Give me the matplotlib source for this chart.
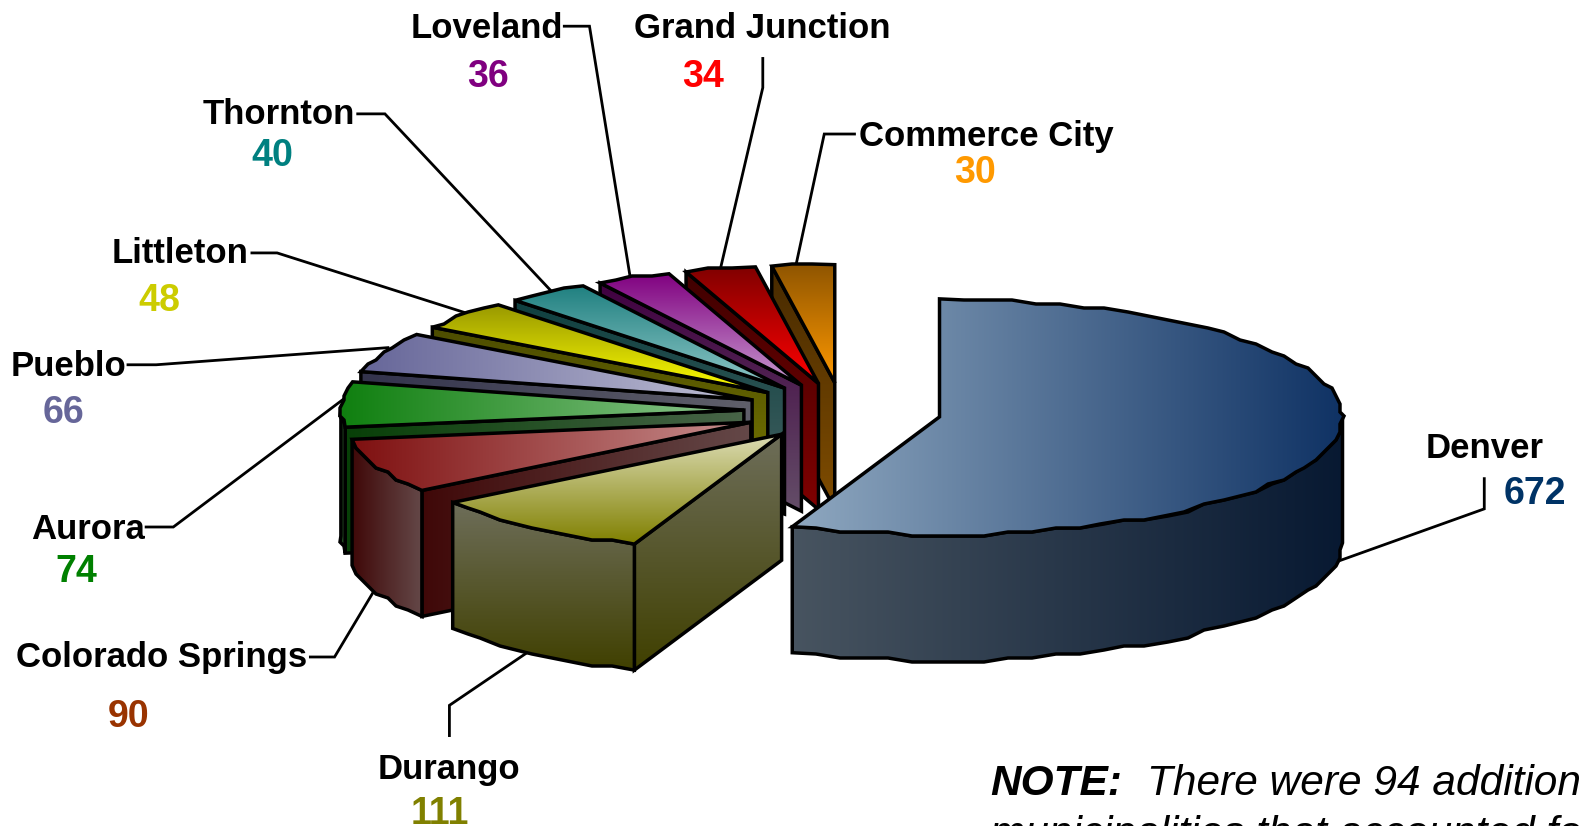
import numpy as np
import matplotlib
matplotlib.use("Agg")
import matplotlib.pyplot as plt
from matplotlib.patches import Polygon
from matplotlib.colors import to_rgb

# ---- data ----
categories = ["Denver", "Durango", "Colorado Springs", "Aurora", "Pueblo",
              "Littleton", "Thornton", "Loveland", "Grand Junction", "Commerce City"]
values = [672, 111, 90, 74, 66, 48, 40, 36, 34, 30]

# ---- style ----
grad_a = ["#8FA8C0", "#DCDCB4", "#7F1010", "#0F7F0F", "#666699",
          "#999900", "#1F8080", "#800080", "#800000", "#8F5500"]
grad_b = ["#0F3264", "#808000", "#C89090", "#90C890", "#C0C0D5",
          "#FFFF00", "#90C8C8", "#C89BD0", "#FF0000", "#FF9900"]
grad_dir = ["h", "v", "h", "h", "h", "v", "v", "v", "v", "v"]
value_colors = ["#003366", "#808000", "#993300", "#008000", "#666699",
                "#CCCC00", "#008080", "#800080", "#FF0000", "#FF9900"]

S = 1580 / 1568
name_xy = [(1473, 445), (446, 764), (160, 653), (87, 525), (68, 364),
           (179, 252), (277, 114), (483, 28), (756, 28), (979, 135)]
value_xy = [(1523, 490), (436, 808), (128, 712), (76, 568), (63, 410),
            (158, 299), (270, 155), (484, 76), (698, 76), (968, 172)]
leaders = [[(1473, 475), (1473, 505), (1325, 558)],
           [(446, 730), (446, 700), (530, 643)],
           [(308, 652), (332, 652), (372, 585)],
           [(145, 523), (172, 523), (345, 393)],
           [(127, 362), (155, 362), (385, 345)],
           [(250, 251), (275, 251), (470, 313)],
           [(355, 113), (382, 113), (550, 292)],
           [(560, 26), (585, 26), (627, 285)],
           [(757, 58), (757, 87), (713, 275)],
           [(848, 133), (818, 133), (788, 272)]]

CX, CY = 842.5, 411.5
RX, RY = 403.0, 118.0
DEPTH = 126.0
EXPLODE = 0.245
SIDE_SHADE = 0.5
LW = 2.5
ROUGH = 4.0      # the reference's rim is a coarse, stepped outline
STEP_DEG = 3.5

plt.rcParams["font.family"] = ["Liberation Sans", "DejaVu Sans"]
fig = plt.figure(figsize=(15.8, 8.26), dpi=100)
ax = fig.add_axes([0, 0, 1, 1])
ax.set_xlim(0, 1580)
ax.set_ylim(826, 0)
ax.axis("off")

z = [10]


def face(points, c0, c1, direction):
    """Draw one polygon with a two-colour linear gradient and a black outline."""
    pts = np.asarray(points)
    x0, y0 = pts.min(axis=0)
    x1, y1 = pts.max(axis=0)
    c0, c1 = np.array(c0), np.array(c1)
    t = np.linspace(0, 1, 256)[:, None]
    ramp = c0 * (1 - t) + c1 * t
    img = ramp[None, :, :] if direction == "h" else ramp[:, None, :]
    z[0] += 1
    im = ax.imshow(img, extent=(x0, x1 + 1e-3, y1 + 1e-3, y0), aspect="auto",
                   interpolation="bilinear", zorder=z[0])
    patch = Polygon(pts, closed=True, fc="none", ec="black", lw=LW,
                    joinstyle="miter", zorder=z[0] + 0.5)
    ax.add_patch(patch)
    im.set_clip_path(patch)


def ell(th):
    return np.array([RX * np.sin(th), -RY * np.cos(th)])


def arc_pts(apex, a, b):
    """Outline from angle a to b, stepped like the reference; ends stay exact."""
    n = max(2, int(np.degrees(b - a) / STEP_DEG) + 1)
    pts = np.array([apex + ell(t) for t in np.linspace(a, b, n + 1)])
    inner = pts[1:-1]
    pts[1:-1] = np.round(inner / ROUGH) * ROUGH
    return pts


total = sum(values)
sweeps = np.radians(np.array(values) / total * 360)
starts = np.concatenate([[0], np.cumsum(sweeps)[:-1]])

# paint from back to front: smallest slice first, Denver last
for i in list(range(len(values) - 1, 0, -1)) + [0]:
    a0, a1 = starts[i], starts[i] + sweeps[i]
    mid = (a0 + a1) / 2
    apex = np.array([CX, CY]) + EXPLODE * ell(mid)
    arc = arc_pts(apex, a0, a1)
    ca, cb = to_rgb(grad_a[i]), to_rgb(grad_b[i])
    sa = tuple(SIDE_SHADE * v for v in ca)
    sb = tuple(SIDE_SHADE * v for v in cb)
    down = np.array([0, DEPTH])

    # cut face on the clockwise-start edge (seen when it faces the viewer)
    p = arc[0]
    if a0 > np.pi:
        face([apex, p, p + down, apex + down], sa, sb, grad_dir[i])
    # cut face on the clockwise-end edge
    p = arc[-1]
    if 0 < a1 < np.pi:
        face([apex, p, p + down, apex + down], sa, sb, grad_dir[i])
    # rim: only the part of the arc that faces the viewer
    lo, hi = max(a0, np.pi / 2), min(a1, 3 * np.pi / 2)
    if hi > lo:
        rim = arc_pts(apex, lo, hi)
        face(np.vstack([rim, (rim + down)[::-1]]), sa, sb, grad_dir[i])
    # top
    face(np.vstack([apex, arc]), ca, cb, grad_dir[i])

# leaders under the pie
for pts in leaders:
    xs, ys = zip(*pts)
    ax.plot(np.array(xs) * S, np.array(ys) * S, color="black", lw=2.0,
            solid_joinstyle="miter", zorder=3)

for name, vc, val, nxy, vxy in zip(categories, value_colors, values, name_xy, value_xy):
    ax.text(nxy[0] * S, nxy[1] * S, name, fontsize=25, fontweight="bold", color="black",
            ha="center", va="center", zorder=500)
    ax.text(vxy[0] * S, vxy[1] * S, str(val), fontsize=27, fontweight="bold", color=vc,
            ha="center", va="center", zorder=500)

ax.text(990, 795, "NOTE:", fontsize=30.5, fontweight="bold", fontstyle="italic",
        ha="left", va="baseline", zorder=500)
ax.text(1147, 795, "There were 94 additional", fontsize=30.5, fontstyle="italic",
        ha="left", va="baseline", zorder=500)
ax.text(990, 846, "municipalities that accounted for", fontsize=30.5, fontstyle="italic",
        ha="left", va="baseline", zorder=500)

fig.savefig("out.png", dpi=100, facecolor="white")
